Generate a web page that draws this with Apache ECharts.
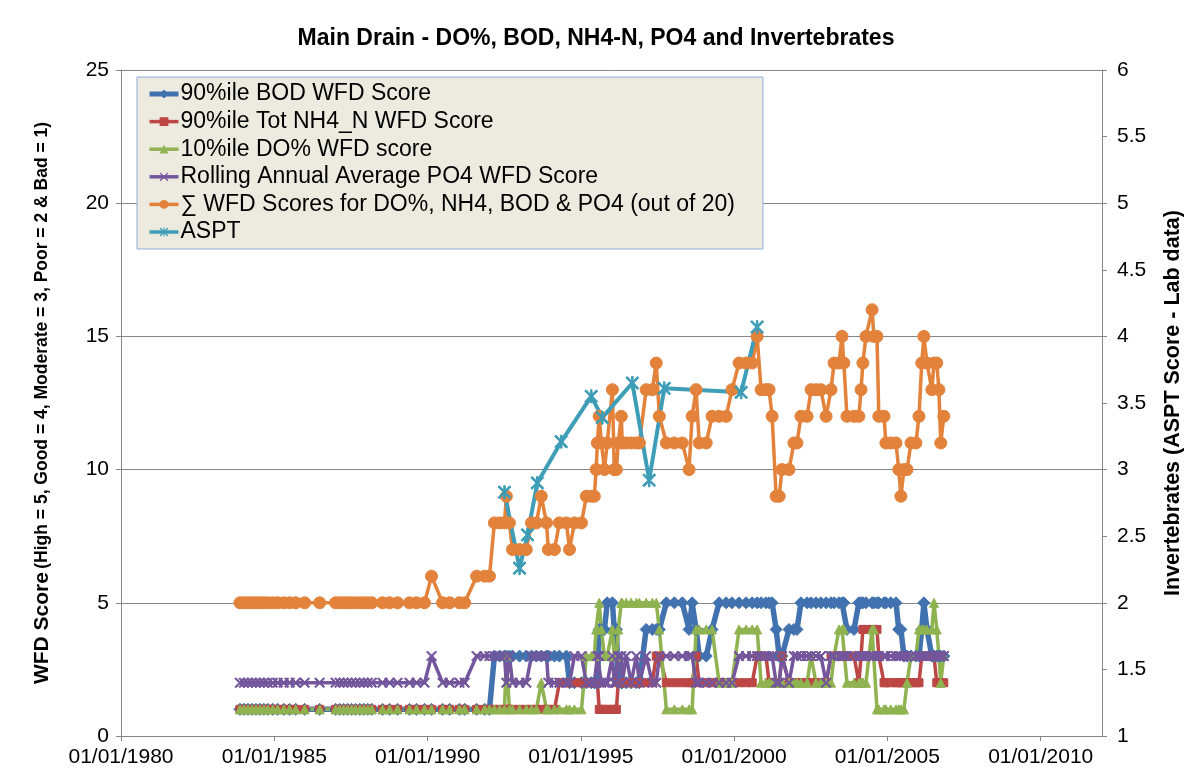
<!DOCTYPE html>
<html><head><meta charset="utf-8">
<script src="https://cdn.jsdelivr.net/npm/echarts@6/dist/echarts.min.js"></script>
<style>html,body{margin:0;padding:0;background:#fff}#c{width:1192px;height:776px}</style>
</head><body><div id="c"></div>
<script>
// sample dates (decimal years) shared by the four WFD score series and their sum
const dates = [
1983.88,1984.01,1984.14,1984.27,1984.40,1984.53,1984.66,1984.79,1984.95,1985.11,
1985.31,1985.50,1985.70,1985.99,1986.48,1987.00,1987.13,1987.26,1987.39,1987.52,
1987.65,1987.79,1987.92,1988.05,1988.18,1988.53,1988.76,1989.02,1989.41,1989.64,
1989.90,1990.13,1990.49,1990.72,1991.04,1991.21,1991.60,1991.86,1992.02,1992.18,
1992.35,1992.51,1992.57,1992.67,1992.77,1993.00,1993.22,1993.39,1993.55,1993.71,
1993.88,1993.94,1994.14,1994.30,1994.53,1994.63,1994.79,1995.02,1995.18,1995.34,
1995.44,1995.50,1995.54,1995.60,1995.67,1995.77,1995.86,1996.03,1996.09,1996.16,
1996.22,1996.32,1996.35,1996.48,1996.64,1996.81,1996.91,1997.13,1997.33,1997.46,
1997.56,1997.79,1998.05,1998.31,1998.53,1998.63,1998.76,1998.86,1999.09,1999.28,
1999.51,1999.74,1999.93,2000.16,2000.39,2000.59,2000.75,2000.88,2001.04,2001.14,
2001.24,2001.37,2001.47,2001.56,2001.79,2001.95,2002.05,2002.18,2002.38,2002.51,
2002.67,2002.83,2003.00,2003.16,2003.26,2003.42,2003.52,2003.58,2003.68,2003.91,
2004.07,2004.14,2004.20,2004.30,2004.50,2004.56,2004.66,2004.72,2004.89,2004.95,
2005.11,2005.28,2005.37,2005.44,2005.54,2005.64,2005.77,2005.93,2006.03,2006.12,
2006.19,2006.29,2006.45,2006.52,2006.61,2006.68,2006.74,2006.84];

const bodScore = [
1,1,1,1,1,1,1,1,1,1, 1,1,1,1,1,1,1,1,1,1, 1,1,1,1,1,1,1,1,1,1,
1,1,1,1,1,1,1,1,1,3, 3,3,3,3,3,3,3,3,3,3, 3,3,3,3,3,2,2,2,2,2,
2,2,2,4,4,4,5,5,4,4, 2,2,2,2,2,2,2,4,4,4, 4,5,5,5,4,5,4,3,3,4,
5,5,5,5,5,5,5,5,5,5, 5,4,3,3,4,4,4,5,5,5, 5,5,5,5,5,5,5,5,4,4,
5,5,5,5,5,5,5,5,5,5, 5,5,4,4,3,3,3,3,3,4, 5,4,3,3,3,3,3,3];

const nh4Score = [
1,1,1,1,1,1,1,1,1,1, 1,1,1,1,1,1,1,1,1,1, 1,1,1,1,1,1,1,1,1,1,
1,1,1,1,1,1,1,1,1,1, 1,1,1,1,1,1,1,1,1,1, 1,1,1,2,2,2,2,2,2,2,
2,2,2,1,1,1,1,1,1,1, 2,2,2,2,2,2,2,2,2,3, 3,2,2,2,2,2,3,2,2,2,
2,2,2,2,2,2,3,3,3,2, 2,2,2,3,2,2,2,2,2,2, 2,2,2,3,3,3,3,3,3,3,
2,3,4,4,4,4,4,3,2,2, 2,2,2,2,2,2,2,2,2,3, 3,3,3,3,2,2,2,2];

const doScore = [
1,1,1,1,1,1,1,1,1,1, 1,1,1,1,1,1,1,1,1,1, 1,1,1,1,1,1,1,1,1,1,
1,1,1,1,1,1,1,1,1,1, 1,1,3,1,1,1,1,1,1,2, 1,1,1,1,1,1,1,1,3,3,
3,4,4,5,4,3,3,4,3,3, 4,5,5,5,5,5,5,5,5,5, 4,1,1,1,1,1,4,4,4,4,
2,2,2,4,4,4,4,2,2,2, 2,2,2,2,2,2,2,2,2,3, 2,2,2,2,3,4,4,4,2,2,
2,2,2,2,4,4,1,1,1,1, 1,1,1,1,1,2,3,3,4,4, 4,4,4,5,4,3,2,3];

const po4Score = [
2,2,2,2,2,2,2,2,2,2, 2,2,2,2,2,2,2,2,2,2, 2,2,2,2,2,2,2,2,2,2,
2,3,2,2,2,2,3,3,3,3, 3,3,2,3,2,2,2,3,3,3, 3,2,2,2,2,2,3,3,2,2,
2,2,3,3,2,2,2,3,2,2, 3,3,2,3,2,3,2,3,2,2, 3,3,3,3,3,3,2,2,2,2,
2,2,2,3,3,3,3,3,3,3, 3,2,2,3,2,3,3,3,3,3, 3,3,2,3,3,3,3,3,3,3,
3,3,3,3,3,3,3,3,3,3, 3,3,3,3,3,3,3,3,3,3, 3,3,3,3,3,3,3,3];

const sumScore = [
5,5,5,5,5,5,5,5,5,5, 5,5,5,5,5,5,5,5,5,5, 5,5,5,5,5,5,5,5,5,5,
5,6,5,5,5,5,6,6,6,8, 8,8,9,8,7,7,7,8,8,9, 8,7,7,8,8,7,8,8,9,9,
9,10,11,12,11,10,11,13,10,10, 11,12,11,11,11,11,11,13,13,14, 12,11,11,11,10,12,13,11,11,12,
12,12,13,14,14,14,15,13,13,13, 12,9,9,10,10,11,11,12,12,13, 13,13,12,13,14,14,15,14,12,12,
12,13,14,15,16,15,15,12,12,11, 11,11,10,9,10,10,11,11,12,14, 15,14,13,14,14,13,11,12];

// ASPT invertebrate samples (right axis)
const asptDates = [1992.51,1993.00,1993.26,1993.58,1994.36,1995.34,1995.70,1996.68,1997.23,1997.72,2000.23,2000.75];
const asptValues = [2.83,2.26,2.51,2.90,3.21,3.55,3.39,3.65,2.92,3.61,3.58,4.07];

const seriesNames = [
  '90%ile BOD WFD Score',
  '90%ile Tot NH4_N WFD Score',
  '10%ile DO% WFD score',
  'Rolling Annual Average PO4 WFD Score',
  '\u2211 WFD Scores for DO%, NH4, BOD & PO4 (out of 20)',
  'ASPT'
];
const xTickLabels = ['01/01/1980','01/01/1985','01/01/1990','01/01/1995','01/01/2000','01/01/2005','01/01/2010'];

const FONT = "'Liberation Sans', Arial, sans-serif";
const GRID = '#868686';
const C = {
  bod: '#4172AF', nh4: '#BC4744', dox: '#8FB350', po4: '#73569C', sum: '#E3823B', aspt: '#3E9DB7'
};
const seriesColors = [C.bod, C.nh4, C.dox, C.po4, C.sum, C.aspt];
const legendLineWidths = [5, 3.5, 3.5, 3.5, 3.5, 3.5];
const xPath = 'path://M0,1L1,0L5,4L9,0L10,1L6,5L10,9L9,10L5,6L1,10L0,9L4,5Z';
const starPath = 'path://M0,1L1,0L5,4L9,0L10,1L6,5L10,9L9,10L5,6L1,10L0,9L4,5Z M4.4,0L5.6,0L5.6,10L4.4,10Z';

const pair = (xs, ys) => xs.map((x, i) => [x, ys[i]]);
function lineSeries(name, data, color, symbol, size, width, yIdx) {
  return {
    name, type: 'line', data, yAxisIndex: yIdx || 0,
    symbol, symbolSize: size, showSymbol: true, showAllSymbol: true,
    lineStyle: { color, width }, itemStyle: { color, borderColor: color },
    emphasis: { disabled: true }, animation: false, clip: false
  };
}

const chart = echarts.init(document.getElementById('c'), null, { renderer: 'canvas' });
chart.setOption({
  animation: false,
  backgroundColor: '#fff',
  textStyle: { fontFamily: FONT },
  title: {
    text: 'Main Drain - DO%, BOD, NH4-N, PO4 and Invertebrates',
    left: 'center', top: 22,
    textStyle: { fontFamily: FONT, fontSize: 23, fontWeight: 'bold', color: '#000' }
  },
  legend: {
    orient: 'vertical', left: 137, top: 77,
    data: seriesNames.map((n, i) => ({ name: n, lineStyle: { width: legendLineWidths[i], color: seriesColors[i] } })),
    backgroundColor: '#EDEBE0', borderColor: '#8DB0D8', borderWidth: 1,
    padding: [5, 28, 5, 10],
    itemWidth: 29, itemHeight: 11, itemGap: 3.6,
    selectedMode: false,
    textStyle: { fontFamily: FONT, fontSize: 23, color: '#000', lineHeight: 24, padding: [0, 0, 0, -3] }
  },
  grid: { left: 121, right: 89, top: 70, bottom: 40, containLabel: false },
  xAxis: {
    type: 'value', min: 1980, max: 2012, interval: 5,
    axisLine: { show: true, lineStyle: { color: GRID, width: 1 } },
    axisTick: { show: true, length: 5, lineStyle: { color: GRID } },
    splitLine: { show: false },
    axisLabel: {
      showMaxLabel: false, margin: 11, fontFamily: FONT, fontSize: 21, color: '#000',
      formatter: v => { const i = Math.round((v - 1980) / 5); return (Math.abs(v - 1980 - i * 5) < 1e-6 && xTickLabels[i]) ? xTickLabels[i] : ''; }
    }
  },
  yAxis: [{
    type: 'value', min: 0, max: 25, interval: 5,
    axisLine: { show: true, lineStyle: { color: GRID, width: 1 } },
    axisTick: { show: true, length: 5, lineStyle: { color: GRID } },
    splitLine: { show: true, lineStyle: { color: GRID, width: 1 } },
    axisLabel: { margin: 12, fontFamily: FONT, fontSize: 21, color: '#000' },
    name: '{a|WFD Score} {b|(High = 5, Good = 4, Moderate = 3, Poor = 2 & Bad = 1)}',
    nameLocation: 'middle', nameRotate: 90, nameGap: 68,
    nameTextStyle: {
      color: '#000', fontFamily: FONT,
      rich: {
        a: { fontSize: 21, fontWeight: 'bold', fontFamily: FONT, color: '#000' },
        b: { fontSize: 17.5, fontWeight: 'bold', fontFamily: FONT, color: '#000' }
      }
    }
  }, {
    type: 'value', min: 1, max: 6, interval: 0.5, position: 'right',
    axisLine: { show: true, lineStyle: { color: GRID, width: 1 } },
    axisTick: { show: true, length: 5, lineStyle: { color: GRID } },
    splitLine: { show: false },
    axisLabel: { margin: 15, fontFamily: FONT, fontSize: 21, color: '#000' },
    name: 'Invertebrates (ASPT Score - Lab data)',
    nameLocation: 'middle', nameRotate: 90, nameGap: 60,
    nameTextStyle: { fontSize: 21.5, fontWeight: 'bold', fontFamily: FONT, color: '#000' }
  }],
  series: [
    lineSeries(seriesNames[0], pair(dates, bodScore), C.bod, 'diamond', 12, 5.5),
    lineSeries(seriesNames[1], pair(dates, nh4Score), C.nh4, 'rect', 8, 3.5),
    lineSeries(seriesNames[2], pair(dates, doScore), C.dox, 'triangle', 9, 3.5),
    lineSeries(seriesNames[3], pair(dates, po4Score), C.po4, xPath, 10, 3.5),
    lineSeries(seriesNames[4], pair(dates, sumScore), C.sum, 'circle', 12, 3.5),
    lineSeries(seriesNames[5], pair(asptDates, asptValues), C.aspt, starPath, 13, 4, 1)
  ]
});
</script>
</body></html>
